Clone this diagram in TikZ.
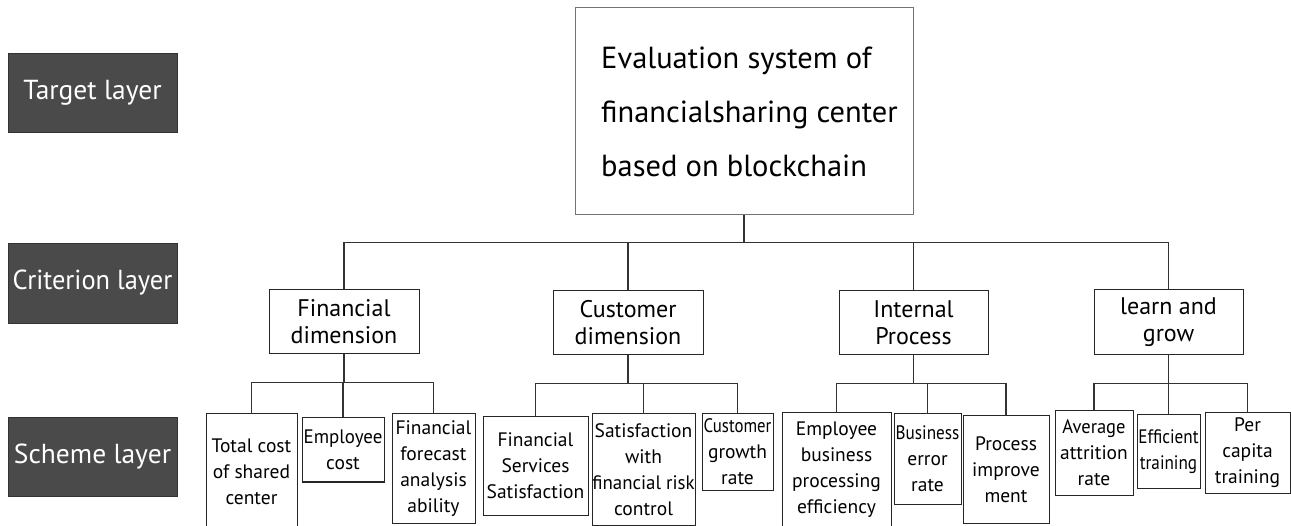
\documentclass[tikz,border=0pt]{standalone}
\usepackage{fontspec}
\usepackage{graphicx}
\setmainfont{PT Sans}
% narrow a word that has to fit a tight box
\newcommand\squeeze[2][0.86]{\scalebox{#1}[1]{#2}}
\begin{document}
\begin{tikzpicture}[x=1pt,y=-1pt,
  layerbox/.style={draw=black!80, fill=black!71, text=white, inner sep=0pt,
    minimum width=169pt, font=\fontsize{27.5}{30}\selectfont},
  critbox/.style={draw=black!85, line width=1pt, inner sep=0pt, align=center,
    minimum width=150pt, minimum height=64pt, font=\fontsize{24}{27}\selectfont},
  schbox/.style={draw=black!85, line width=1pt, inner sep=0pt, align=center,
    font=\fontsize{19.5}{26}\selectfont},
  conn/.style={draw=black!80, line width=1.3pt}]
% canvas
\path[fill=white, use as bounding box] (0,0) rectangle (1291,526);

% layer labels
\node[layerbox, minimum height=79pt] (ltarget) at (92.5,92.5) {Target layer};
\node[layerbox, minimum height=80pt] (lcrit) at (92.5,283) {\squeeze[0.96]{Criterion layer}};
\node[layerbox, minimum height=79pt] (lscheme) at (92.5,456.5) {Scheme layer};

% goal
\node[draw=black!55, line width=1pt, minimum width=338pt, minimum height=207pt, inner sep=0pt] (main) at (744,111.5) {};
\node[anchor=west, align=left, inner sep=0pt, font=\fontsize{30.5}{54}\selectfont] (maintext) at (601,111.5)
  {Evaluation system of\\financialsharing center\\based on blockchain};

% criteria
\node[critbox] (c1) at (344,322) {Financial\\dimension};
\node[critbox] (c2) at (628,323) {Customer\\dimension};
\node[critbox, minimum width=149pt] (c3) at (913.5,323) {Internal\\Process};
\node[critbox, minimum width=149pt, minimum height=65pt] (c4) at (1168.5,322.5) {learn and\\grow};

% schemes
\node[schbox, minimum width=91pt, minimum height=116pt] (s11) at (251.5,472) {Total cost\\of shared\\center};
\node[schbox, minimum width=82pt, minimum height=64pt] (s12) at (343,450) {\squeeze[0.97]{Employee}\\cost};
\node[schbox, minimum width=83pt, minimum height=109pt] (s13) at (433.5,468.5) {Financial\\forecast\\analysis\\ability};
\node[schbox, minimum width=105pt, minimum height=98pt] (s21) at (535.5,466) {Financial\\Services\\Satisfaction};
\node[schbox, minimum width=103pt, minimum height=111pt] (s22) at (643.5,469.5) {Satisfaction\\with\\\squeeze[0.97]{financial risk}\\control};
\node[schbox, minimum width=71pt, minimum height=76pt] (s23) at (737.5,452) {\squeeze[0.86]{Customer}\\growth\\rate};
\node[schbox, minimum width=109pt, minimum height=113pt] (s31) at (836.5,469.5) {Employee\\business\\processing\\efficiency};
\node[schbox, minimum width=67pt, minimum height=90pt] (s32) at (927.5,459) {\squeeze[0.88]{Business}\\error\\rate};
\node[schbox, minimum width=86pt, minimum height=107pt] (s33) at (1006,469.5) {Process\\improve\\ment};
\node[schbox, minimum width=78pt, minimum height=84pt] (s41) at (1094,453) {\squeeze[0.95]{Average}\\attrition\\rate};
\node[schbox, minimum width=63pt, minimum height=73pt] (s42) at (1168.5,451.5) {\squeeze[0.88]{Efficient}\\\squeeze[0.88]{training}};
\node[schbox, minimum width=85pt, minimum height=80pt] (s43) at (1247.5,453) {Per\\capita\\training};

% goal to criteria
\draw[conn] (main.south) -- ++(0,27) coordinate (topbus);
\draw[conn] (c1.north) |- (topbus) -| (c4.north);
\draw[conn] (c2.north) -- (c2.north |- topbus);
\draw[conn] (c3.north) -- (c3.north |- topbus);

% criteria to schemes
\foreach \c/\a/\b/\m in {c1/s11/s12/s13, c2/s21/s22/s23, c3/s31/s32/s33, c4/s41/s42/s43}{
  \draw[conn] (\c.south) -- ++(0,28) coordinate (bus);
  \draw[conn] (\a.north) |- (bus) -| (\m.north);
  \draw[conn] (\b.north) -- (\b.north |- bus);
}
\end{tikzpicture}
\end{document}
